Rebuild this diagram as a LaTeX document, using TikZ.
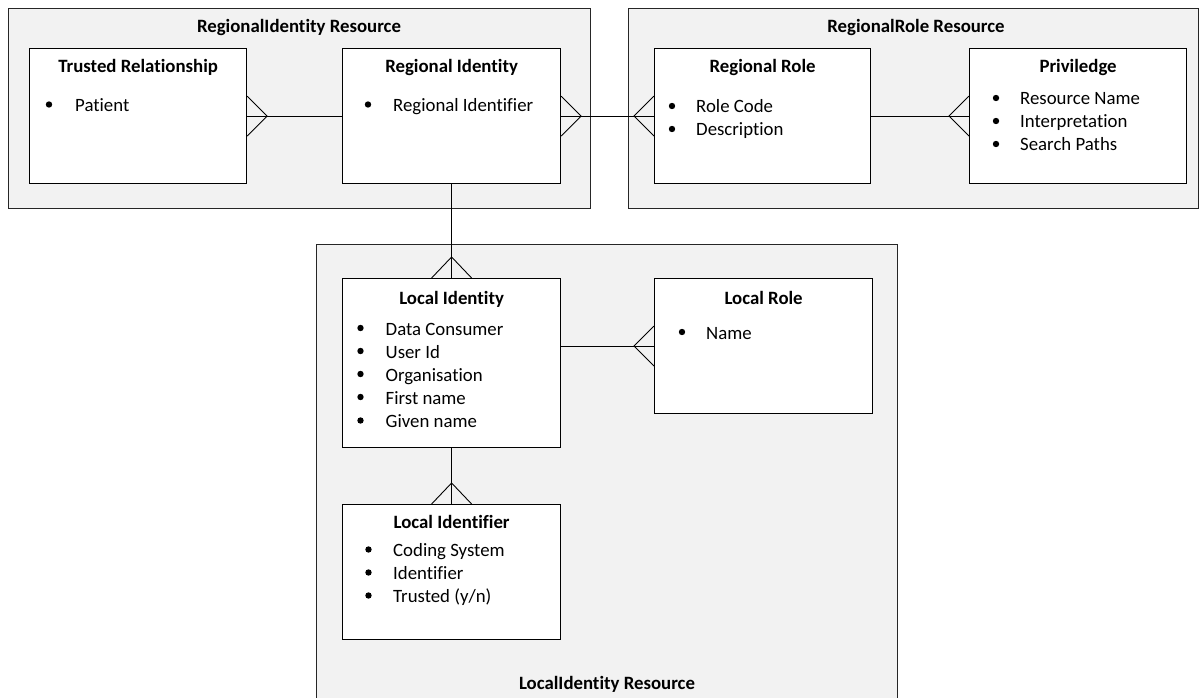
\documentclass[tikz,border=0pt]{standalone}
\usepackage{fontspec}
\setmainfont{Carlito}[Ligatures={NoCommon,NoRare,NoContextual}]
\usetikzlibrary{calc}
\begin{document}
\begin{tikzpicture}[x=1pt,y=-1pt,
  grp/.style={draw=black!85, fill=black!5, line width=0.9pt},
  ent/.style={draw=black, fill=white, line width=1.2pt, rectangle, inner sep=0pt, anchor=north west},
  ttl/.style={anchor=base, inner sep=0pt, font=\fontsize{18.8}{23}\selectfont\bfseries},
  itm/.style={anchor=base west, inner sep=0pt, font=\fontsize{18.8}{23}\selectfont},
  conn/.style={draw=black, line width=0.9pt},
  dotm/.style={fill=black},
]
\useasboundingbox (0,0) rectangle (1203,698);
\clip (0,0) rectangle (1203,698);

% groups
\draw[grp] (8,8) rectangle (590,208);
\draw[grp] (628,8) rectangle (1198,208);
\draw[grp] (316,244) rectangle (897,712);
\node[ttl] (g1) at (299,33) {RegionalIdentity Resource};
\node[ttl] (g2) at (916,33) {RegionalRole Resource};
\node[ttl] (g3) at (607,689) {LocalIdentity Resource};

% entities
\node[ent, minimum width=217pt, minimum height=135pt] (tr) at (29,48) {};
\node[ent, minimum width=218pt, minimum height=135pt] (ri) at (342,48) {};
\node[ent, minimum width=216pt, minimum height=135pt] (rr) at (654,48) {};
\node[ent, minimum width=217pt, minimum height=135pt] (pv) at (969,48) {};
\node[ent, minimum width=218pt, minimum height=169pt] (li) at (342,278) {};
\node[ent, minimum width=218pt, minimum height=135pt] (lr) at (654,278) {};
\node[ent, minimum width=218pt, minimum height=135pt] (lid) at (342,504) {};

% titles
\node[ttl] (trt) at (tr.center |- 0,72.5) {Trusted Relationship};
\node[ttl] (rit) at (ri.center |- 0,72.5) {Regional Identity};
\node[ttl] (rrt) at (rr.center |- 0,72.5) {Regional Role};
\node[ttl] (pvt) at (pv.center |- 0,72.5) {Priviledge};
\node[ttl] (lit) at (li.center |- 0,304) {Local Identity};
\node[ttl] (lrt) at (lr.center |- 0,304) {Local Role};
\node[ttl] (lidt) at (lid.center |- 0,528) {Local Identifier};

% items
\foreach \bx/\tx/\by/\txt/\nm in {
  49/75/111.5/{Patient}/i1,
  368/393/111.5/{Regional Identifier}/i2,
  672/696/113/{Role Code}/i3,
  672/696/136/{Description}/i4,
  996/1020/105/{Resource Name}/i5,
  996/1020/128/{Interpretation}/i6,
  996/1020/151/{Search Paths}/i7,
  360.5/385.5/335/{Data Consumer}/i8,
  360.5/385.5/358/{User Id}/i9,
  360.5/385.5/381/{Organisation}/i10,
  360.5/385.5/404/{First name}/i11,
  360.5/385.5/427.5/{Given name}/i12,
  682/706/339/{Name}/i13,
  368.5/393/556.5/{Coding System}/i14,
  368.5/393/579.5/{Identifier}/i15,
  368.5/393/602.5/{Trusted (y/n)}/i16}
{
  \fill[dotm] (\bx,\by-7) circle (3.2pt);
  \node[itm] (\nm) at (\tx,\by) {\txt};
}

% connectors
\draw[conn] (tr.east) -- (ri.west);
\draw[conn] ($(tr.east)+(0,-20)$) -- ($(tr.east)+(20,0)$) -- ($(tr.east)+(0,20)$);

\draw[conn] (ri.east) -- (rr.west);
\draw[conn] ($(ri.east)+(0,-20)$) -- ($(ri.east)+(20,0)$) -- ($(ri.east)+(0,20)$);
\draw[conn] ($(rr.west)+(0,-20)$) -- ($(rr.west)+(-20,0)$) -- ($(rr.west)+(0,20)$);

\draw[conn] (rr.east) -- (pv.west);
\draw[conn] ($(pv.west)+(0,-20)$) -- ($(pv.west)+(-20,0)$) -- ($(pv.west)+(0,20)$);

\draw[conn] (ri.south) -- (li.north);
\draw[conn] ($(li.north)+(-20,0)$) -- ($(li.north)+(0,-21)$) -- ($(li.north)+(20,0)$);

\draw[conn] (li.east |- lr.west) -- (lr.west);
\draw[conn] ($(lr.west)+(0,-20)$) -- ($(lr.west)+(-20,0)$) -- ($(lr.west)+(0,20)$);

\draw[conn] (li.south) -- (lid.north);
\draw[conn] ($(lid.north)+(-20,0)$) -- ($(lid.north)+(0,-21)$) -- ($(lid.north)+(20,0)$);
\end{tikzpicture}
\end{document}
